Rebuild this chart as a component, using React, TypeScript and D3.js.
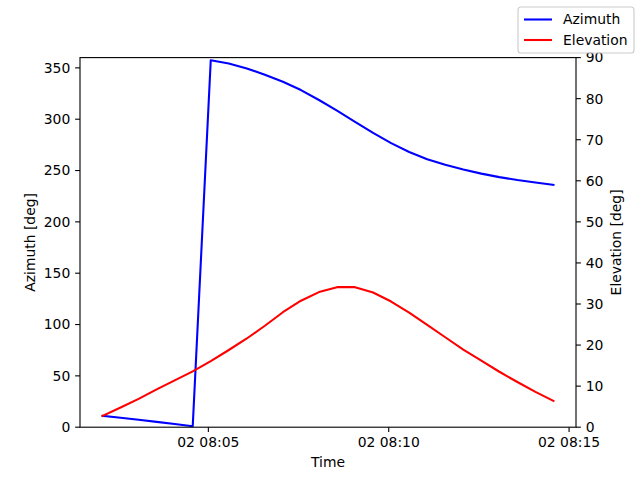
import React from "react";
import * as d3 from "d3";

const startTime = "2024-01-02T08:02:04Z";
const stepSeconds = 30;
const azimuth = [11, 9.2, 7.2, 5.2, 3.2, 1.0, 357.5, 354.3, 349.4, 343.3, 336.5, 328.4, 318.7, 308.3, 297.4, 286.6, 276.7, 268, 261, 255.6, 251, 247, 243.6, 240.7, 238.4, 236];
const elevation = [2.75, 4.8, 6.9, 9.2, 11.4, 13.6, 16.1, 18.8, 21.6, 24.7, 28, 30.8, 32.9, 34.1, 34.1, 32.8, 30.6, 27.9, 24.9, 21.9, 18.9, 16.2, 13.5, 11.0, 8.6, 6.4];
const azTicks = [0, 50, 100, 150, 200, 250, 300, 350];
const elTicks = [0, 10, 20, 30, 40, 50, 60, 70, 80, 90];
const timeTicks = ["2024-01-02T08:05:00Z", "2024-01-02T08:10:00Z", "2024-01-02T08:15:00Z"];
const seriesNames = ["Azimuth", "Elevation"];
const seriesColors = ["#0000ff", "#ff0000"];

const W = 640, H = 480;
const L = 80, R = 576, T = 57.6, B = 427.2;
const FONT = "DejaVu Sans, sans-serif";
const FS = 13.9;
const TL = 4.86;

export default function App() {
  const t0 = new Date(startTime).getTime();
  const times = azimuth.map((_, i) => new Date(t0 + i * stepSeconds * 1000));
  const tMin = times[0].getTime(), tMax = times[times.length - 1].getTime();
  const span = tMax - tMin;
  const x = d3.scaleTime().domain([new Date(tMin - 0.05 * span), new Date(tMax + 0.05 * span)]).range([L, R]);
  const yA = d3.scaleLinear().domain([0, 360]).range([B, T]);
  const yE = d3.scaleLinear().domain([0, 90]).range([B, T]);
  const fmt = d3.utcFormat("%d %H:%M");
  const lineA = d3.line<number>().x((_, i) => x(times[i])).y((d) => yA(d));
  const lineE = d3.line<number>().x((_, i) => x(times[i])).y((d) => yE(d));

  const legX = 518, legY = 7, legW = 116, legH = 46;

  return (
    <svg width={W} height={H} style={{ position: "absolute", left: 0, top: 0, background: "#fff" }} fontFamily={FONT}>
      <rect x={0} y={0} width={W} height={H} fill="#fff" />
      <path d={lineA(azimuth) || ""} fill="none" stroke={seriesColors[0]} strokeWidth={2.08} strokeLinejoin="round" strokeLinecap="square" />
      <path d={lineE(elevation) || ""} fill="none" stroke={seriesColors[1]} strokeWidth={2.08} strokeLinejoin="round" strokeLinecap="square" />
      <rect x={L} y={T} width={R - L} height={B - T} fill="none" stroke="#000" strokeWidth={1.11} />
      {azTicks.map((v) => (
        <g key={"a" + v}>
          <line x1={L - TL} x2={L} y1={yA(v)} y2={yA(v)} stroke="#000" strokeWidth={1.11} />
          <text x={L - TL - 4.86} y={yA(v)} dy="0.35em" textAnchor="end" fontSize={FS}>{v}</text>
        </g>
      ))}
      {elTicks.map((v) => (
        <g key={"e" + v}>
          <line x1={R} x2={R + TL} y1={yE(v)} y2={yE(v)} stroke="#000" strokeWidth={1.11} />
          <text x={R + TL + 4.86} y={yE(v)} dy="0.35em" textAnchor="start" fontSize={FS}>{v}</text>
        </g>
      ))}
      {timeTicks.map((s) => {
        const d = new Date(s);
        return (
          <g key={s}>
            <line x1={x(d)} x2={x(d)} y1={B} y2={B + TL} stroke="#000" strokeWidth={1.11} />
            <text x={x(d)} y={B + TL + 4.86} dy="0.76em" textAnchor="middle" fontSize={FS}>{fmt(d)}</text>
          </g>
        );
      })}
      <text x={(L + R) / 2} y={466.5} textAnchor="middle" fontSize={FS}>Time</text>
      <text transform={`translate(35,${(T + B) / 2}) rotate(-90)`} textAnchor="middle" fontSize={FS}>Azimuth [deg]</text>
      <text transform={`translate(611,${(T + B) / 2}) rotate(-90)`} textAnchor="middle" dy="0.7em" fontSize={FS}>Elevation [deg]</text>
      <rect x={legX} y={legY} width={legW} height={legH} rx={3} fill="#fff" fillOpacity={0.8} stroke="#cccccc" strokeWidth={1.11} />
      {seriesNames.map((n, i) => (
        <g key={n}>
          <line x1={legX + 6} x2={legX + 34} y1={legY + 12.5 + i * 20.5} y2={legY + 12.5 + i * 20.5} stroke={seriesColors[i]} strokeWidth={2.08} />
          <text x={legX + 45} y={legY + 12.5 + i * 20.5} dy="0.35em" fontSize={FS}>{n}</text>
        </g>
      ))}
    </svg>
  );
}
